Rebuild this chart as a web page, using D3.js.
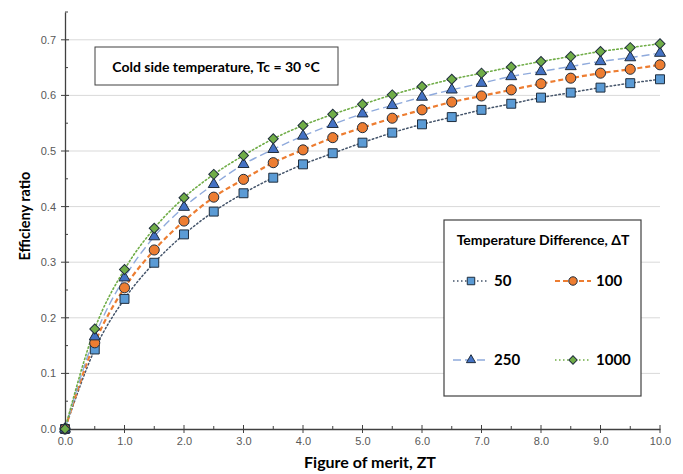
<!DOCTYPE html>
<html>
<head>
<meta charset="utf-8">
<style>
  body { margin: 0; background: #fff; }
  svg { font-family: Lato, "Open Sans", sans-serif; }
  .tick-label { font-size: 11px; fill: #595959; }
  .axis-title { font-weight: bold; fill: #000; }
</style>
</head>
<body>
<div id="chart"></div>
<script src="https://d3js.org/d3.v7.min.js"></script>
<script>
  // ZT values (x) and efficiency ratio per temperature difference
  const zt = [0, 0.5, 1.0, 1.5, 2.0, 2.5, 3.0, 3.5, 4.0, 4.5, 5.0,
              5.5, 6.0, 6.5, 7.0, 7.5, 8.0, 8.5, 9.0, 9.5, 10.0];
  const dT50 = [0, 0.143, 0.234, 0.299, 0.350, 0.391, 0.424, 0.452, 0.476, 0.496, 0.515,
                0.533, 0.548, 0.561, 0.574, 0.585, 0.596, 0.605, 0.614, 0.622, 0.629];
  const dT100 = [0, 0.155, 0.254, 0.322, 0.374, 0.417, 0.449, 0.479, 0.502, 0.524, 0.542,
                 0.559, 0.574, 0.588, 0.599, 0.610, 0.621, 0.631, 0.640, 0.647, 0.655];
  const dT250 = [0, 0.166, 0.272, 0.346, 0.399, 0.440, 0.476, 0.503, 0.527, 0.548, 0.567,
                 0.582, 0.597, 0.610, 0.622, 0.634, 0.643, 0.652, 0.661, 0.668, 0.676];
  const dT1000 = [0, 0.180, 0.287, 0.361, 0.416, 0.458, 0.492, 0.522, 0.546, 0.566, 0.584,
                  0.601, 0.616, 0.629, 0.640, 0.651, 0.661, 0.670, 0.679, 0.686, 0.693];
  const seriesNames = ['50', '100', '250', '1000'];
  const xTicks = [0, 1, 2, 3, 4, 5, 6, 7, 8, 9, 10];
  const yTicks = [0, 0.1, 0.2, 0.3, 0.4, 0.5, 0.6, 0.7];

  const width = 683;
  const height = 474;
  const margin = { top: 12, right: 23, bottom: 45, left: 65 };

  const series = [
    { name: seriesNames[0], values: dT50, line: '#44546a', dash: '1.5,2.5', lw: 1.5, shape: d3.symbolSquare, size: 80, rot: 0, fill: '#5b9bd5' },
    { name: seriesNames[1], values: dT100, line: '#ed7d31', dash: '5,3', lw: 2.2, shape: d3.symbolCircle, size: 80, rot: 0, fill: '#ed7d31' },
    { name: seriesNames[2], values: dT250, line: '#8faadc', dash: '8,4', lw: 1.4, shape: d3.symbolTriangle, size: 52, rot: 0, fill: '#4472c4' },
    { name: seriesNames[3], values: dT1000, line: '#70ad47', dash: '1.5,2.5', lw: 1.6, shape: d3.symbolSquare, size: 50, rot: 45, fill: '#70ad47' }
  ];

  const svg = d3.select('#chart')
    .append('svg')
    .attr('width', width)
    .attr('height', height);

  const xScale = d3.scaleLinear()
    .domain([0, 10])
    .range([margin.left, width - margin.right]);

  const yScale = d3.scaleLinear()
    .domain([0, 0.75])
    .range([height - margin.bottom, margin.top]);

  // gridlines
  svg.append('g')
    .selectAll('line')
    .data(yTicks.slice(1))
    .enter()
    .append('line')
    .attr('x1', xScale(0))
    .attr('x2', xScale(10))
    .attr('y1', d => yScale(d))
    .attr('y2', d => yScale(d))
    .attr('stroke', '#d9d9d9')
    .attr('stroke-width', 1);

  // x axis
  const xAxis = d3.axisBottom(xScale)
    .tickValues(xTicks)
    .tickSize(0)
    .tickPadding(8)
    .tickFormat(d3.format('.1f'));
  const xg = svg.append('g')
    .attr('transform', `translate(0, ${yScale(0)})`)
    .call(xAxis);
  xg.select('.domain').attr('stroke', '#404040').attr('stroke-width', 1.3);
  xg.selectAll('text').attr('class', 'tick-label');
  // major ticks cross, minor ticks inside
  xg.selectAll('.major')
    .data(xTicks)
    .enter()
    .append('line')
    .attr('x1', d => xScale(d)).attr('x2', d => xScale(d))
    .attr('y1', -4).attr('y2', 4)
    .attr('stroke', '#404040');
  xg.selectAll('.minor')
    .data(xTicks.slice(0, -1).map(d => d + 0.5))
    .enter()
    .append('line')
    .attr('x1', d => xScale(d)).attr('x2', d => xScale(d))
    .attr('y1', -3).attr('y2', 0)
    .attr('stroke', '#404040');

  // y axis
  const yAxis = d3.axisLeft(yScale)
    .tickValues(yTicks)
    .tickSize(0)
    .tickPadding(9)
    .tickFormat(d3.format('.1f'));
  const yg = svg.append('g')
    .attr('transform', `translate(${xScale(0)}, 0)`)
    .call(yAxis);
  yg.select('.domain').attr('stroke', '#404040').attr('stroke-width', 1.3);
  yg.selectAll('text').attr('class', 'tick-label');
  yg.selectAll('.major')
    .data(yTicks)
    .enter()
    .append('line')
    .attr('y1', d => yScale(d)).attr('y2', d => yScale(d))
    .attr('x1', -4).attr('x2', 4)
    .attr('stroke', '#404040');
  yg.selectAll('.minor')
    .data(yTicks.map(d => d + 0.05))
    .enter()
    .append('line')
    .attr('y1', d => yScale(d)).attr('y2', d => yScale(d))
    .attr('x1', 0).attr('x2', 3)
    .attr('stroke', '#404040');

  // lines
  const lineGen = d3.line()
    .x((d, i) => xScale(zt[i]))
    .y(d => yScale(d))
    .curve(d3.curveMonotoneX);

  series.forEach(s => {
    svg.append('path')
      .datum(s.values)
      .attr('fill', 'none')
      .attr('stroke', s.line)
      .attr('stroke-width', s.lw)
      .attr('stroke-dasharray', s.dash)
      .attr('stroke-linecap', s.dash.startsWith('1.5') ? 'round' : 'butt')
      .attr('d', lineGen);
  });

  // markers
  series.forEach(s => {
    svg.append('g')
      .selectAll('path')
      .data(s.values)
      .enter()
      .append('path')
      .attr('transform', (d, i) => `translate(${xScale(zt[i])}, ${yScale(d)}) rotate(${s.rot})`)
      .attr('d', d3.symbol().type(s.shape).size(s.size))
      .attr('fill', s.fill)
      .attr('stroke', '#1f2d3d')
      .attr('stroke-width', 1);
  });

  // axis titles
  svg.append('text')
    .attr('class', 'axis-title')
    .attr('x', 370)
    .attr('y', 468)
    .attr('text-anchor', 'middle')
    .style('font-size', '16px')
    .text('Figure of merit, ZT');

  svg.append('text')
    .attr('class', 'axis-title')
    .attr('transform', 'rotate(-90)')
    .attr('x', -216)
    .attr('y', 30)
    .attr('text-anchor', 'middle')
    .style('font-size', '14.5px')
    .text('Efficieny ratio');

  // cold side annotation
  svg.append('rect')
    .attr('x', 95).attr('y', 47)
    .attr('width', 243).attr('height', 38)
    .attr('fill', '#fff')
    .attr('stroke', '#404040')
    .attr('stroke-width', 1);
  svg.append('text')
    .attr('x', 216).attr('y', 72)
    .attr('text-anchor', 'middle')
    .style('font-size', '14px')
    .style('font-weight', 'bold')
    .text('Cold side temperature, Tc = 30 °C');

  // legend
  const legend = svg.append('g');
  legend.append('rect')
    .attr('x', 444).attr('y', 220)
    .attr('width', 197).attr('height', 176)
    .attr('fill', '#fff')
    .attr('stroke', '#404040')
    .attr('stroke-width', 1.2);
  legend.append('text')
    .attr('x', 543).attr('y', 245)
    .attr('text-anchor', 'middle')
    .style('font-size', '14px')
    .style('font-weight', 'bold')
    .text('Temperature Difference, ΔT');

  const legendPos = [[453, 281], [555, 281], [453, 360], [555, 360]];
  series.forEach((s, i) => {
    const [lx, ly] = legendPos[i];
    legend.append('line')
      .attr('x1', lx).attr('x2', lx + 36)
      .attr('y1', ly).attr('y2', ly)
      .attr('stroke', s.line)
      .attr('stroke-width', s.lw)
      .attr('stroke-dasharray', s.dash);
    legend.append('path')
      .attr('transform', `translate(${lx + 18}, ${ly}) rotate(${s.rot})`)
      .attr('d', d3.symbol().type(s.shape).size(s.size * 0.7))
      .attr('fill', s.fill)
      .attr('stroke', '#1f2d3d')
      .attr('stroke-width', 1);
    legend.append('text')
      .attr('x', lx + 41).attr('y', ly + 5)
      .style('font-size', '15px')
      .style('font-weight', 'bold')
      .text(s.name);
  });
</script>
</body>
</html>
